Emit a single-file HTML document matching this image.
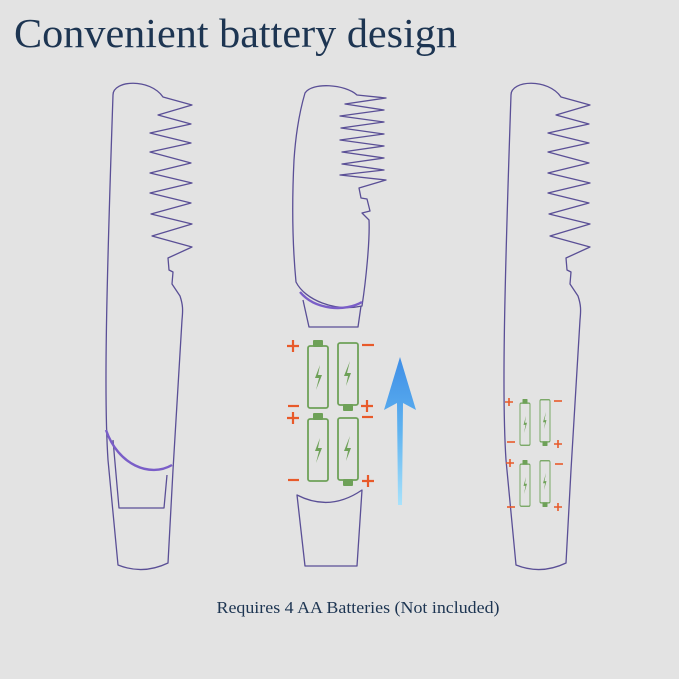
<!DOCTYPE html>
<html><head><meta charset="utf-8"><style>
html,body{margin:0;padding:0;background:#e3e3e3;}
svg{display:block}
</style></head><body>
<svg width="679" height="679" viewBox="0 0 679 679" xmlns="http://www.w3.org/2000/svg">
<rect width="679" height="679" fill="#e3e3e3"/>
<text x="14" y="47" font-family="Liberation Serif, serif" font-size="41" textLength="443" lengthAdjust="spacingAndGlyphs" fill="#1d3552">Convenient battery design</text>

<g fill="none" stroke="#5a4f96" stroke-width="1.3" stroke-linejoin="round">
<path id="br" d="M113,95 C113,80 150,78 163,97 L192,105 L158,115 L191,124 L150,133 L191,143 L150,152 L191,163 L150,173 L192,183 L150,193 L191,203 L151,214 L192,224 L152,236 L192,247 L168,258 L169,270 L173,272 L172,284 L180,296 C183,305 183,310 182,320 L173,470 L168,563 Q143,575 118,565 L108,460 C104,400 106,300 113,95 Z"/>
<path d="M113,440 L119,508 L164,508 L167,475"/>
<use href="#br" transform="translate(398,0)"/>
<path d="M305,93 C312,82 345,84 357,95 L386,98 L345,104 L384,110 L340,116 L384,122 L341,128 L384,134 L340,140 L384,146 L342,152 L384,158 L342,164 L384,170 L340,175 L386,180 L359,188 L361,198 L367,199 L370,211 L362,213 L369,220 C370,240 366,280 362,306 C335,312 305,300 296,282 C292,240 292,200 294,160 C296,130 300,110 305,93 Z"/>
<path d="M303,300 L309,327 L358,327 L361,306"/>
<path d="M297,495 Q330,512 362,490 L357,566 L305,566 Z"/>
</g>
<g fill="none" stroke="#7a5ec8" stroke-width="2.4">
<path d="M106,430 C118,465 150,478 172,465"/>
<path d="M300,292 C315,310 345,312 362,302"/>
</g>

<defs>
<linearGradient id="ag" x1="0" y1="0" x2="0" y2="1">
<stop offset="0" stop-color="#3f8ee6"/><stop offset="0.5" stop-color="#5fb3f0"/><stop offset="1" stop-color="#a8e2fb"/>
</linearGradient>
<g id="bat">
<rect x="0" y="6" width="20" height="62" rx="2" fill="none" stroke="#6ea158" stroke-width="1.8"/>
<rect x="5" y="0" width="10" height="7" rx="1" fill="#6ea158"/>
<path d="M12,25 L7,38 L11,38 L8,50 L14,35 L10,35 Z" fill="#6ea158"/>
</g>
</defs>
<path d="M400,357 L416,410 L403,403 L402,505 L398,505 L397,403 L384,410 Z" fill="url(#ag)"/>

<use href="#bat" transform="translate(308,340)"/>
<use href="#bat" transform="translate(358,411) rotate(180)"/>
<use href="#bat" transform="translate(308,413)"/>
<use href="#bat" transform="translate(358,486) rotate(180)"/>
<g fill="none" stroke="#e85a2a" stroke-width="2.2">
<path d="M287,346 h12 M293,340 v12"/>
<path d="M362,345 h12"/>
<path d="M288,406 h11"/><path d="M287,418 h12 M293,412 v12"/>
<path d="M361,406 h12 M367,400 v12"/><path d="M362,417 h11"/>
<path d="M288,480 h11"/><path d="M362,481 h12 M368,475 v12"/>
</g>

<use href="#bat" transform="translate(520,399) scale(0.5,0.68)"/>
<use href="#bat" transform="translate(550,446) rotate(180) scale(0.5,0.68)"/>
<use href="#bat" transform="translate(520,460) scale(0.5,0.68)"/>
<use href="#bat" transform="translate(550,507) rotate(180) scale(0.5,0.68)"/>
<g fill="none" stroke="#e85a2a" stroke-width="1.6">
<path d="M505,402 h8 M509,398 v8"/><path d="M554,401 h8"/>
<path d="M507,442 h8"/><path d="M554,444 h8 M558,440 v8"/>
<path d="M506,463 h8 M510,459 v8"/><path d="M555,464 h8"/>
<path d="M507,507 h8"/><path d="M554,507 h8 M558,503 v8"/>
</g>

<text x="358" y="613" text-anchor="middle" font-family="Liberation Serif, serif" font-size="16.5" textLength="283" lengthAdjust="spacingAndGlyphs" fill="#1d3552">Requires 4 AA Batteries (Not included)</text>
</svg>
</body></html>
